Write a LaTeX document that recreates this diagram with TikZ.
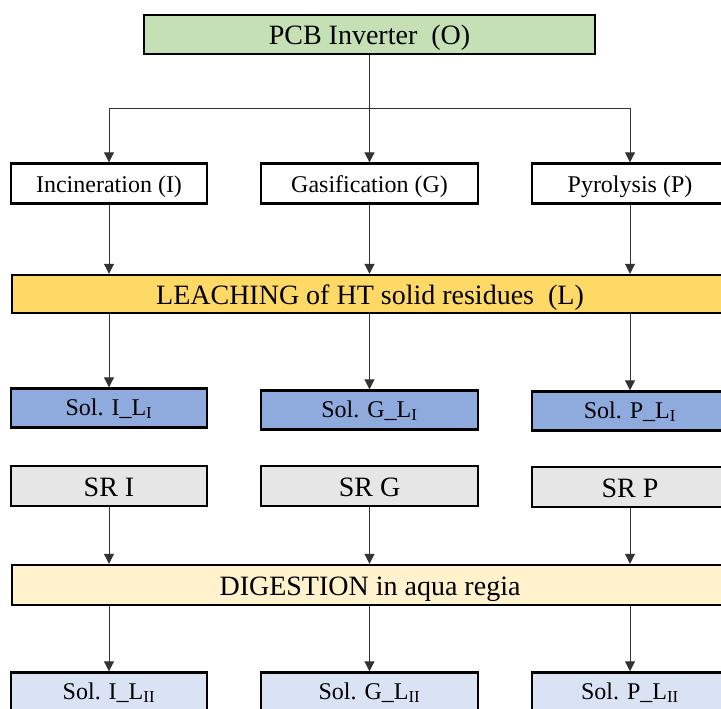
\documentclass[tikz,border=0pt]{standalone}
\usepackage{fontspec}
\setmainfont{Liberation Serif}
\usetikzlibrary{arrows.meta}
\definecolor{cO}{HTML}{C5E0B4}
\definecolor{cL}{HTML}{FFD966}
\definecolor{cS1}{HTML}{8FAADC}
\definecolor{cSR}{HTML}{E6E6E6}
\definecolor{cD}{HTML}{FFF2CC}
\definecolor{cS2}{HTML}{DAE3F3}
\definecolor{cline}{HTML}{333333}
\tikzset{
  box/.style 2 args={draw=black, line width=1.8pt, minimum width=#1*0.75pt, minimum height=#2*0.75pt, inner sep=0pt, text depth=0pt},
  big/.style={font=\fontsize{21}{24}\selectfont, text height=15.6pt},
  small/.style={font=\fontsize{18}{21}\selectfont, text height=14.2pt},
  sol/.style={font=\fontsize{18}{21}\selectfont, text height=10.8pt},
  conn/.style={draw=cline, line width=0.75pt, -{Triangle[width=7.5pt,length=7.5pt]}},
}
\begin{document}
\begin{tikzpicture}[x=0.75pt,y=-0.75pt]
\begin{scope}
\clip (0,0) rectangle (721,709);
\fill[white] (0,0) rectangle (721,709);
% row 0
\node[box={451}{39}, fill=cO, big] (O) at (369.5,34.5) {PCB Inverter\ \ (O)};
% row 1
\node[box={196}{40}, fill=white, small] (I) at (109,183.5) {Incineration (I)};
\node[box={217}{40}, fill=white, small] (G) at (369.5,183.5) {Gasification (G)};
\node[box={196}{40}, fill=white, small] (P) at (630,183.5) {Pyrolysis (P)};
% leaching
\node[box={716}{38}, fill=cL, big] (L) at (370,294) {LEACHING of HT solid residues\ \ (L)};
% sol LI
\node[box={196}{39}, fill=cS1, sol] (S1I) at (109,408) {Sol. I\_L\textsubscript{I}};
\node[box={217}{39}, fill=cS1, sol] (S1G) at (369.5,410) {Sol. G\_L\textsubscript{I}};
\node[box={196}{39}, fill=cS1, sol] (S1P) at (630,411) {Sol. P\_L\textsubscript{I}};
% SR
\node[box={196}{40}, fill=cSR, big] (SRI) at (109,486) {SR I};
\node[box={217}{40}, fill=cSR, big] (SRG) at (369.5,486) {SR G};
\node[box={196}{40}, fill=cSR, big] (SRP) at (630,487) {SR P};
% digestion
\node[box={716}{40}, fill=cD, big] (D) at (370,585) {DIGESTION in aqua regia};
% sol LII
\node[box={196}{39}, fill=cS2, sol] (S2I) at (109,692) {Sol. I\_L\textsubscript{II}};
\node[box={217}{39}, fill=cS2, sol] (S2G) at (369.5,692) {Sol. G\_L\textsubscript{II}};
\node[box={196}{39}, fill=cS2, sol] (S2P) at (630,692) {Sol. P\_L\textsubscript{II}};
% connectors
\coordinate (hub) at (369.5,109);
\draw[conn] (O.south) -- (G.north);
\draw[conn] (hub) -| (I.north);
\draw[conn] (hub) -| (P.north);
\draw[conn] (I.south) -- (I.south |- L.north);
\draw[conn] (G.south) -- (G.south |- L.north);
\draw[conn] (P.south) -- (P.south |- L.north);
\draw[conn] (S1I.north |- L.south) -- (S1I.north);
\draw[conn] (S1G.north |- L.south) -- (S1G.north);
\draw[conn] (S1P.north |- L.south) -- (S1P.north);
\draw[conn] (SRI.south) -- (SRI.south |- D.north);
\draw[conn] (SRG.south) -- (SRG.south |- D.north);
\draw[conn] (SRP.south) -- (SRP.south |- D.north);
\draw[conn] (S2I.north |- D.south) -- (S2I.north);
\draw[conn] (S2G.north |- D.south) -- (S2G.north);
\draw[conn] (S2P.north |- D.south) -- (S2P.north);
\end{scope}
\pgfresetboundingbox
\useasboundingbox (0,0) rectangle (721,709);
\end{tikzpicture}
\end{document}
